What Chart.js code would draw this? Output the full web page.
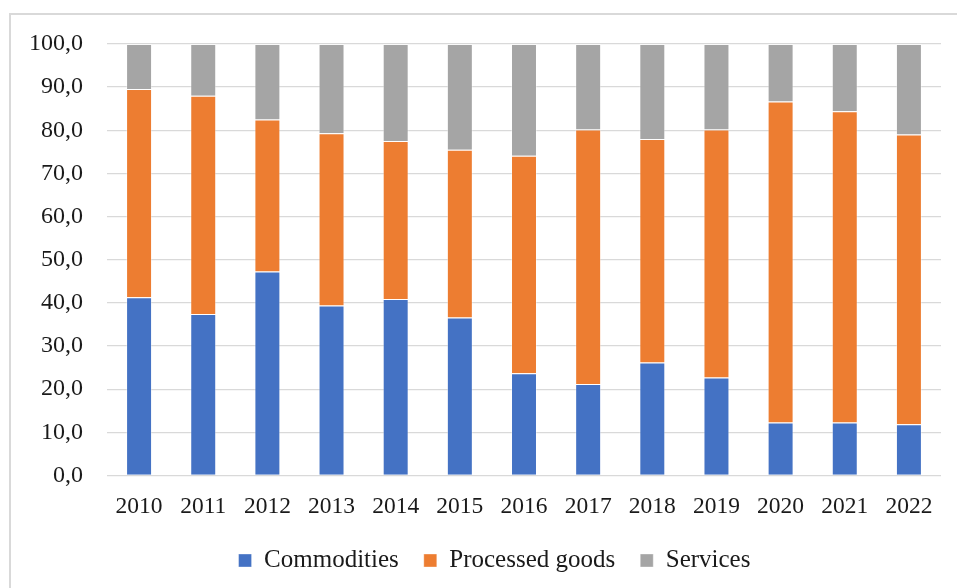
<!DOCTYPE html>
<html>
<head>
<meta charset="utf-8">
<script src="https://cdn.jsdelivr.net/npm/chart.js@4/dist/chart.umd.min.js"></script>
<style>
  html, body { margin: 0; padding: 0; background: #fff; }
  #wrap { position: relative; width: 957px; height: 588px; overflow: hidden; }
  #frame { position: absolute; left: 9px; top: 13px; width: 1000px; height: 700px;
           border-top: 2px solid #d9d9d9; border-left: 2px solid #d9d9d9; box-sizing: border-box; }
  canvas { position: absolute; left: 0; top: 0; }
</style>
</head>
<body>
<div id="wrap">
  <div id="frame"></div>
  <canvas id="c" width="957" height="588"></canvas>
</div>
<script>
const years = ['2010','2011','2012','2013','2014','2015','2016','2017','2018','2019','2020','2021','2022'];
const commodities = [41.3, 37.4, 47.3, 39.4, 40.9, 36.6, 23.7, 21.2, 26.2, 22.7, 12.3, 12.3, 11.9];
const processedGoods = [48.3, 50.6, 35.2, 39.9, 36.6, 38.9, 50.4, 59.0, 51.8, 57.5, 74.4, 72.1, 67.1];
const services = [10.4, 12.0, 17.5, 20.7, 22.5, 24.5, 25.9, 19.8, 22.0, 19.8, 13.3, 15.6, 21.0];
const yTickLabels = ['0,0', '10,0', '20,0', '30,0', '40,0', '50,0', '60,0', '70,0', '80,0', '90,0', '100,0'];
const seriesNames = ['Commodities', 'Processed goods', 'Services'];

const FONT = "'Liberation Serif', 'Times New Roman', serif";
const edge = 'rgba(255,255,255,0.35)';

const legendShift = {
  id: 'legendShift',
  afterLayout(chart) {
    const lg = chart.legend;
    if (lg) { lg.left += 14; lg.right += 14; }
  }
};

new Chart(document.getElementById('c'), {
  type: 'bar',
  data: {
    labels: years,
    datasets: [
      { label: seriesNames[0], data: commodities, backgroundColor: '#4472C4', borderColor: edge, borderWidth: 1 },
      { label: seriesNames[1], data: processedGoods, backgroundColor: '#ED7D31', borderColor: edge, borderWidth: 1 },
      { label: seriesNames[2], data: services, backgroundColor: '#A5A5A5', borderColor: edge, borderWidth: 1 }
    ]
  },
  plugins: [legendShift],
  options: {
    responsive: false,
    animation: false,
    devicePixelRatio: 1,
    datasets: { bar: { barPercentage: 0.405, categoryPercentage: 1.0 } },
    layout: { padding: { left: 20, right: 16, top: 44, bottom: 5 } },
    scales: {
      x: {
        stacked: true,
        grid: { display: false, drawTicks: false },
        border: { display: false },
        ticks: { color: '#1a1a1a', font: { family: FONT, size: 23.5 }, padding: 17, maxRotation: 0 },
        afterFit: s => { s.height = 47.5; }
      },
      y: {
        stacked: true,
        min: 0, max: 100,
        grid: { color: '#d9d9d9', lineWidth: 1.3, drawTicks: false },
        border: { display: false },
        ticks: {
          stepSize: 10,
          color: '#1a1a1a', font: { family: FONT, size: 24 }, padding: 24,
          callback: (v, i) => yTickLabels[i]
        },
        afterFit: s => { s.width = 87; }
      }
    },
    plugins: {
      legend: {
        position: 'bottom',
        labels: { color: '#1a1a1a', font: { family: FONT, size: 25 }, boxWidth: 13, boxHeight: 13, padding: 25 }
      },
      tooltip: { enabled: false }
    }
  }
});
</script>
</body>
</html>
